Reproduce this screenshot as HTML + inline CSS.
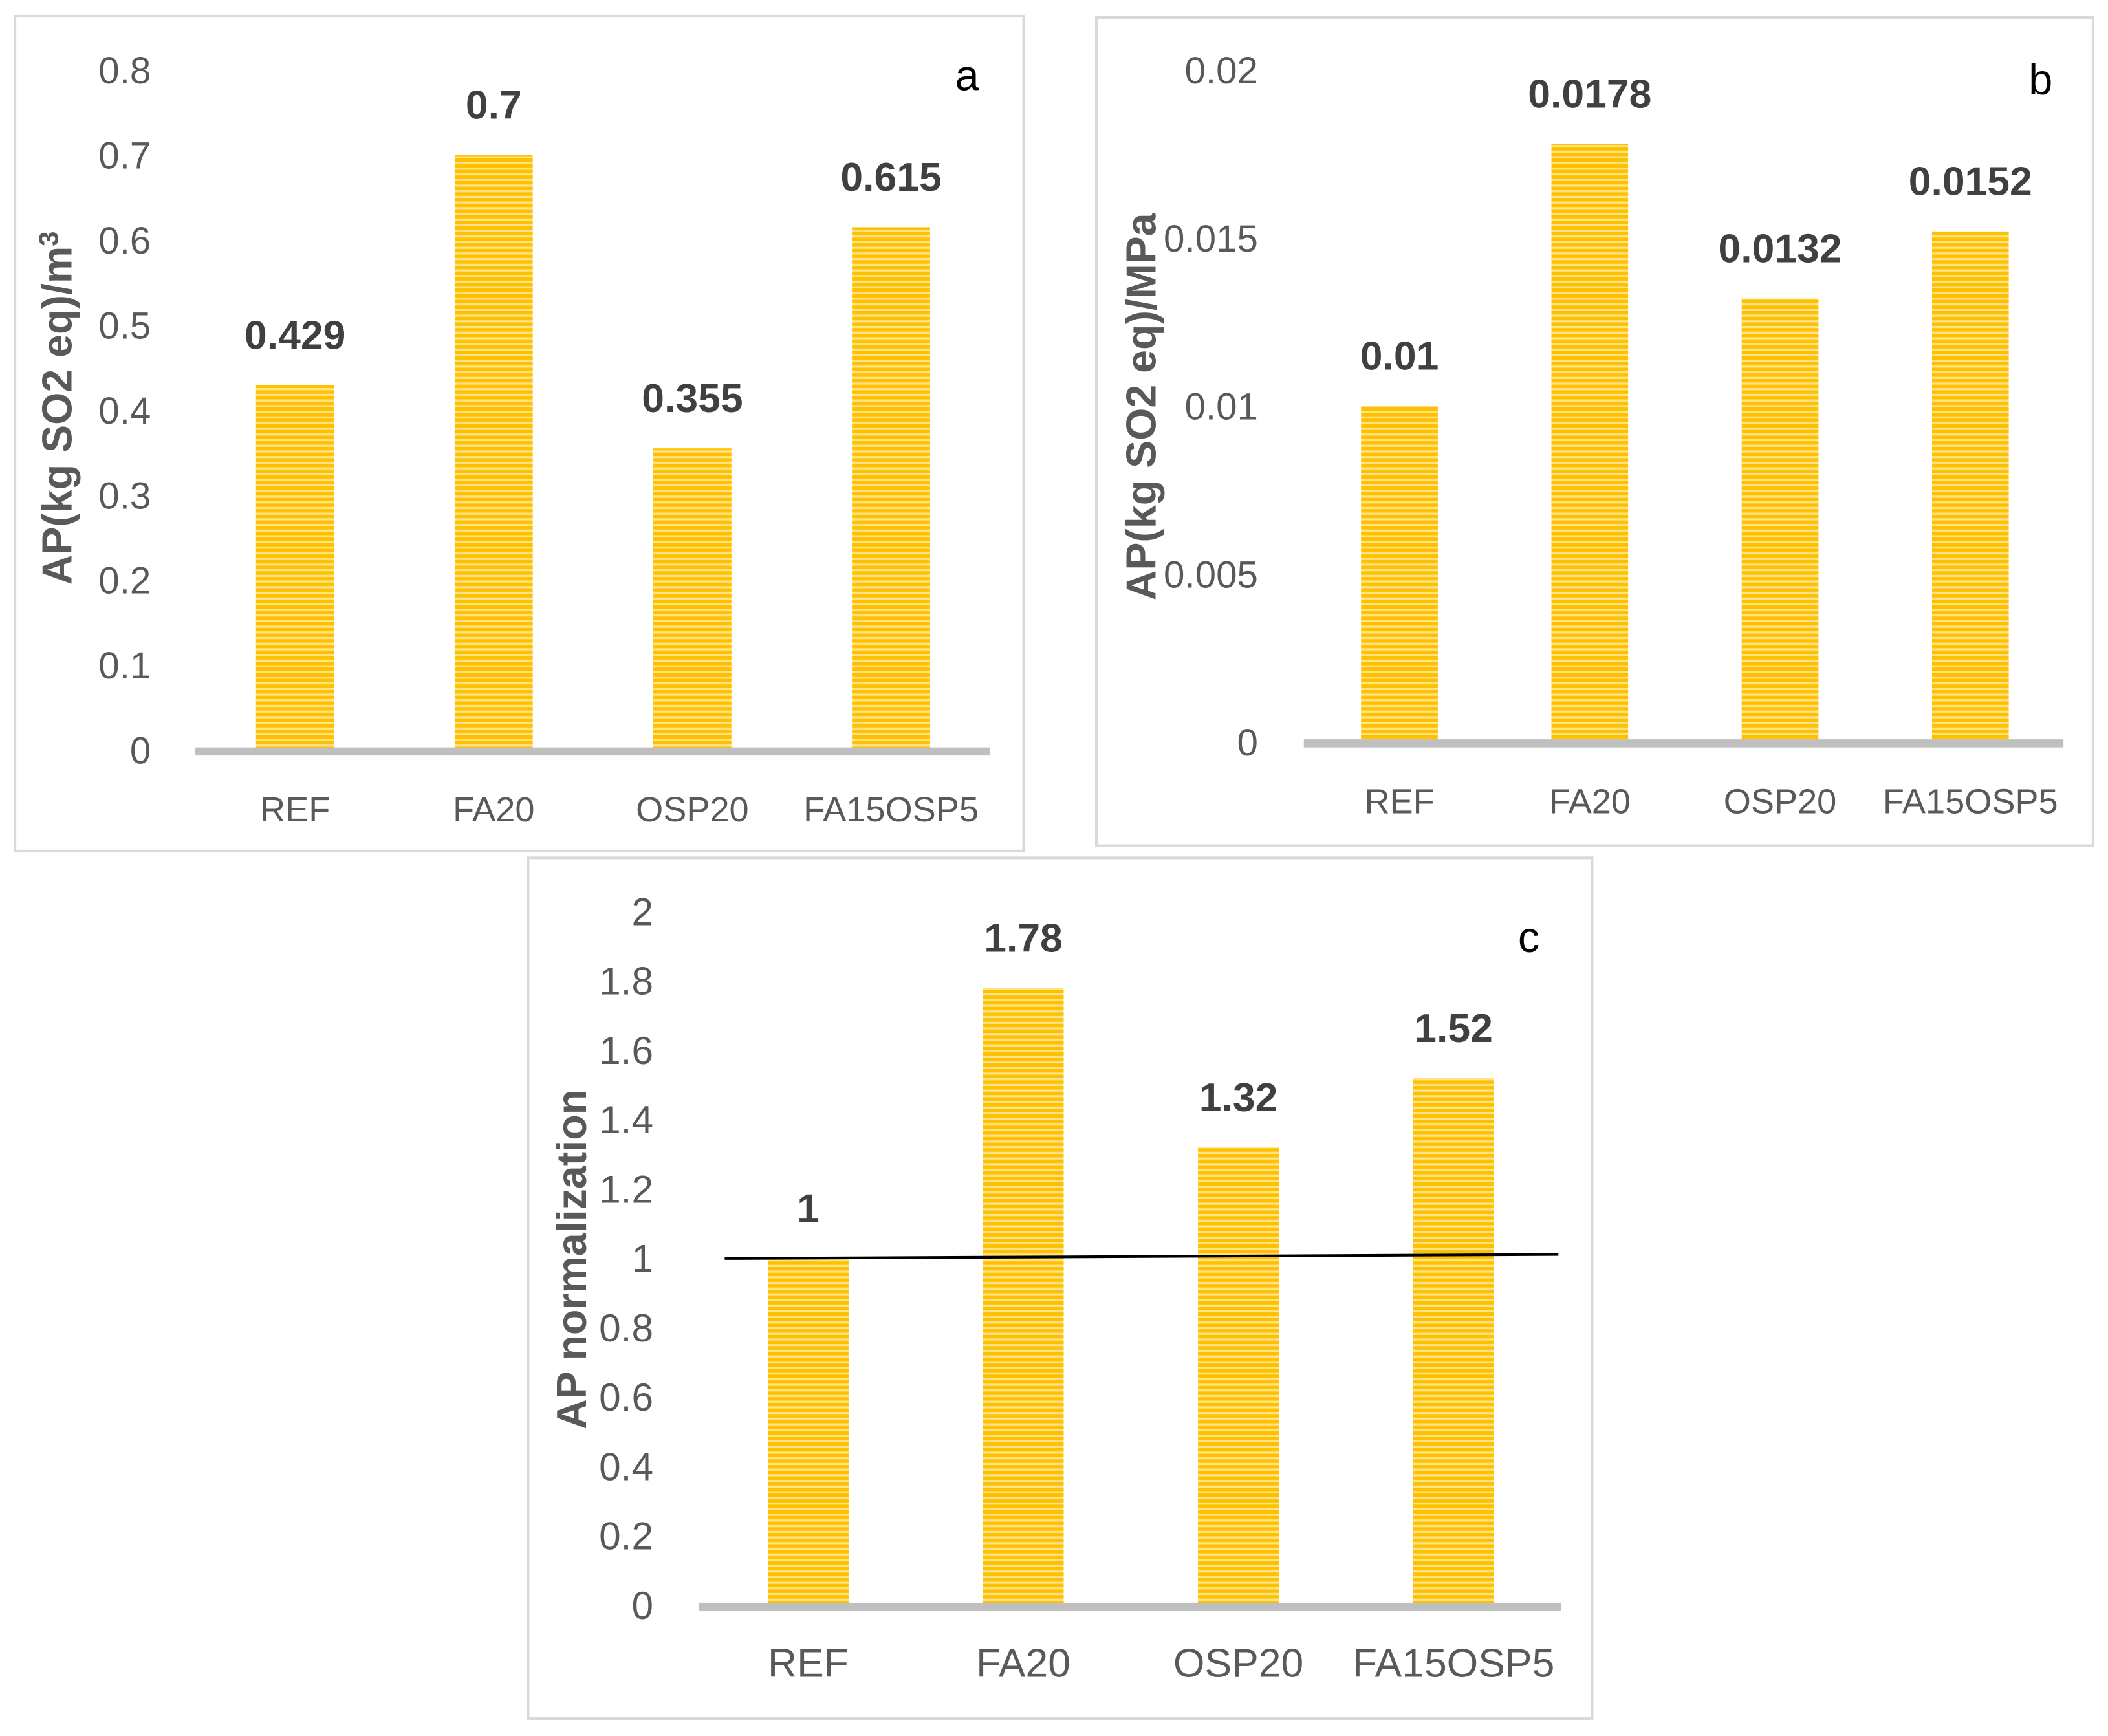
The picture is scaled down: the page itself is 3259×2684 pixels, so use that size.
<!DOCTYPE html>
<html><head><meta charset="utf-8"><style>
html,body{margin:0;padding:0;background:#fff}
svg{display:block}
text{font-family:"Liberation Sans",sans-serif}
</style></head><body>
<svg id="fig" width="3259" height="2684" viewBox="0 0 1565 1289" xmlns="http://www.w3.org/2000/svg">
<defs>
<pattern id="stripes" patternUnits="userSpaceOnUse" width="10" height="4.2">
<rect width="10" height="4.2" fill="#FFE38A"/>
<rect width="10" height="2.6" fill="#FFC000"/>
</pattern>
</defs>
</svg>
<script>
const categories = ["REF","FA20","OSP20","FA15OSP5"];
const valuesA = [0.429,0.7,0.355,0.615];
const valuesB = [0.01,0.0178,0.0132,0.0152];
const valuesC = [1,1.78,1.32,1.52];
const labelsA = ["0.429","0.7","0.355","0.615"];
const labelsB = ["0.01","0.0178","0.0132","0.0152"];
const labelsC = ["1","1.78","1.32","1.52"];
const ticksA = [0,0.1,0.2,0.3,0.4,0.5,0.6,0.7,0.8];
const tickLabelsA = ["0","0.1","0.2","0.3","0.4","0.5","0.6","0.7","0.8"];
const ticksB = [0,0.005,0.01,0.015,0.02];
const tickLabelsB = ["0","0.005","0.01","0.015","0.02"];
const ticksC = [0,0.2,0.4,0.6,0.8,1,1.2,1.4,1.6,1.8,2];
const tickLabelsC = ["0","0.2","0.4","0.6","0.8","1","1.2","1.4","1.6","1.8","2"];
const refLineC = 1;

const NS="http://www.w3.org/2000/svg";
const svg=document.getElementById('fig');
function mk(tag,attrs,parent){const e=document.createElementNS(NS,tag);for(const k in attrs)e.setAttribute(k,attrs[k]);(parent||svg).appendChild(e);return e;}

function panel(cfg){
  const g=mk('g',{});
  
  
  const fr=mk('rect',{x:cfg.frame[0],y:cfg.frame[1],width:cfg.frame[2]-cfg.frame[0],height:cfg.frame[3]-cfg.frame[1],fill:'#fff',stroke:'#d9d9d9','stroke-width':2},g);
  
  
  const y=v=>cfg.y0-(v-0)/(cfg.ymax)*(cfg.y0-cfg.ytop);
  const xc=i=>cfg.x0c+i*cfg.step;
  cfg.ticks.forEach((t,i)=>{
    const tx=mk('text',{x:cfg.tickX,y:y(t)+10,'text-anchor':'end','font-size':cfg.tickSize,fill:'#595959'},g);
    tx.textContent=cfg.tickLabels[i];
    
    
  });
  cfg.values.forEach((v,i)=>{
    const b=mk('rect',{x:xc(i)-cfg.bw/2,y:y(v),width:cfg.bw,height:cfg.y0-y(v),fill:'url(#stripes)'},g);
    
    
    const l=mk('text',{x:xc(i),y:y(v)-27,'text-anchor':'middle','font-size':30,'font-weight':'bold',fill:'#404040'},g);
    l.textContent=cfg.labels[i];
    
    
    const c=mk('text',{x:xc(i),y:cfg.y0+53,'text-anchor':'middle','font-size':cfg.catSize,fill:'#595959'},g);
    c.textContent=categories[i];
    
    
  });
  const ax=mk('line',{x1:cfg.ax1,x2:cfg.ax2,y1:cfg.y0+1,y2:cfg.y0+1,stroke:'#bfbfbf','stroke-width':6},g);
  
  
  if(cfg.ref!==undefined){
    const rl=mk('line',{x1:cfg.ax1+19,x2:cfg.ax2-2,y1:y(cfg.ref),y2:y(cfg.ref)-3,stroke:'#000','stroke-width':2},g);
    
    
  }
  const tt=mk('text',{x:0,y:0,'text-anchor':'middle','font-size':cfg.titleSize,'font-weight':'bold',fill:'#595959',transform:`translate(${cfg.titleX},${cfg.titleY}) rotate(-90)`},g);
  tt.innerHTML=cfg.title;
  
  
  const lt=mk('text',{x:cfg.letter[0],y:cfg.letter[1],'text-anchor':'middle','font-size':32,fill:'#000'},g);
  lt.textContent=cfg.id;
  
  
}

panel({id:'a',frame:[11,12,760,632],y0:557,ytop:52,ymax:0.8,x0c:219,step:147.5,bw:58,ax1:145,ax2:735,tickX:112,tickSize:28,
  ticks:ticksA,tickLabels:tickLabelsA,values:valuesA,labels:labelsA,catSize:26,titleSize:31,
  title:'AP(kg SO2 eq)/m<tspan dy="-10" font-size="20">3</tspan>',titleX:53,titleY:303,letter:[718,67]});
panel({id:'b',frame:[814,13,1554,628],y0:551,ytop:52,ymax:0.02,x0c:1039,step:141.3,bw:57,ax1:968,ax2:1532,tickX:934,tickSize:28,
  ticks:ticksB,tickLabels:tickLabelsB,values:valuesB,labels:labelsB,catSize:26,titleSize:31,
  title:'AP(kg SO2 eq)/MPa',titleX:858,titleY:302,letter:[1515,70]});
panel({id:'c',frame:[392,637,1182,1276],y0:1192,ytop:677,ymax:2,x0c:600,step:159.7,bw:60,ax1:519,ax2:1159,tickX:485,tickSize:29,
  ticks:ticksC,tickLabels:tickLabelsC,values:valuesC,labels:labelsC,catSize:30,ref:refLineC,titleSize:31,
  title:'AP normalization',titleX:435,titleY:935,letter:[1135,707]});
</script>
</body></html>
